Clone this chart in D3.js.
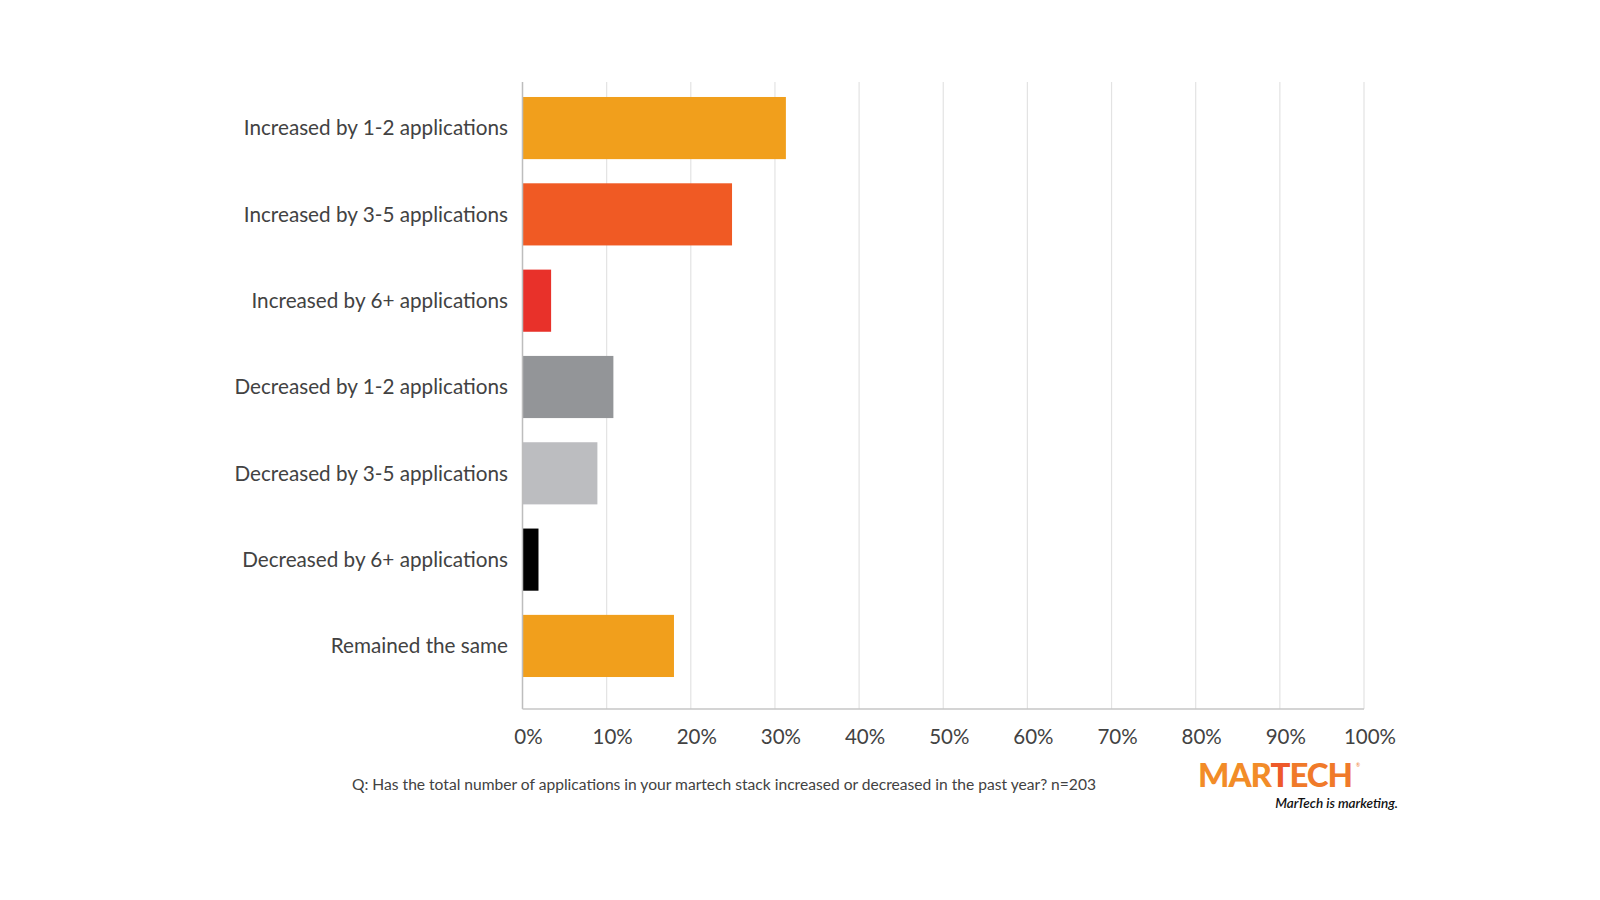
<!DOCTYPE html>
<html>
<head>
<meta charset="utf-8">
<script src="https://cdn.jsdelivr.net/npm/d3@7"></script>
<style>
  html, body { margin: 0; padding: 0; background: #ffffff; }
  svg { display: block; font-family: Lato, "Open Sans", sans-serif; }
</style>
</head>
<body>
<svg id="chart" width="1600" height="900"></svg>
<script>
const categories = [
  "Increased by 1-2 applications",
  "Increased by 3-5 applications",
  "Increased by 6+ applications",
  "Decreased by 1-2 applications",
  "Decreased by 3-5 applications",
  "Decreased by 6+ applications",
  "Remained the same"
];
const values = [31.3, 24.9, 3.4, 10.8, 8.9, 1.9, 18.0];
const barColors = ["#f19f1c", "#f05a24", "#e8312a", "#939598", "#bcbdc0", "#000000", "#f19f1c"];
const tickValues = [0, 10, 20, 30, 40, 50, 60, 70, 80, 90, 100];
const tickLabels = ["0%", "10%", "20%", "30%", "40%", "50%", "60%", "70%", "80%", "90%", "100%"];
const footnote = "Q: Has the total number of applications in your martech stack increased or decreased in the past year? n=203";

const svg = d3.select("#chart");

const plotTop = 82, plotBottom = 709;
const x = d3.scaleLinear().domain([0, 100]).range([522.5, 1364]);
const y = d3.scaleBand().domain(categories).range([84.9, 689.1]).paddingInner(0.28).paddingOuter(0.14);

// gridlines
svg.append("g").selectAll("line")
  .data(tickValues.filter(d => d > 0))
  .join("line")
  .attr("x1", d => x(d)).attr("x2", d => x(d))
  .attr("y1", plotTop).attr("y2", plotBottom)
  .attr("stroke", "#e3e3e3").attr("stroke-width", 1.2);

// bars
svg.append("g").selectAll("rect")
  .data(categories)
  .join("rect")
  .attr("x", x(0))
  .attr("y", d => y(d))
  .attr("width", (d, i) => x(values[i]) - x(0))
  .attr("height", y.bandwidth())
  .attr("fill", (d, i) => barColors[i]);

// axis lines
svg.append("line")
  .attr("x1", x(0)).attr("x2", x(0))
  .attr("y1", plotTop).attr("y2", plotBottom)
  .attr("stroke", "#bdbdbd").attr("stroke-width", 1.5);
svg.append("line")
  .attr("x1", x(0)).attr("x2", x(100))
  .attr("y1", plotBottom).attr("y2", plotBottom)
  .attr("stroke", "#c6c6c6").attr("stroke-width", 1.5);

// category labels
svg.append("g").selectAll("text")
  .data(categories)
  .join("text")
  .attr("x", 508)
  .attr("y", d => y(d) + y.bandwidth() / 2)
  .attr("dy", "0.35em")
  .attr("text-anchor", "end")
  .attr("font-size", 20.7)
  .attr("fill", "#424242")
  .text(d => d);

// tick labels
svg.append("g").selectAll("text")
  .data(tickValues)
  .join("text")
  .attr("x", d => x(d) + 6)
  .attr("y", 737)
  .attr("dy", "0.35em")
  .attr("text-anchor", "middle")
  .attr("font-size", 20.5)
  .attr("fill", "#424242")
  .text((d, i) => tickLabels[i]);

// footnote
svg.append("text")
  .attr("x", 352).attr("y", 785)
  .attr("dy", "0.35em")
  .attr("font-size", 15.6)
  .attr("fill", "#424242")
  .text(footnote);

// logo
const logo = svg.append("g");
const logoText = logo.append("text")
  .attr("x", 1198).attr("y", 787)
  .attr("font-family", "Lato, sans-serif")
  .attr("font-weight", 900)
  .attr("font-size", 33)
  .attr("letter-spacing", -1);
logoText.append("tspan").attr("fill", "#f28c28").text("MAR");
logoText.append("tspan").attr("fill", "#ee5a2a").text("T");
logoText.append("tspan").attr("fill", "#f07a2a").text("ECH");
logo.append("text")
  .attr("x", 1356).attr("y", 767)
  .attr("font-size", 5).attr("fill", "#f07a2a").text("®");
logo.append("text")
  .attr("x", 1398).attr("y", 808)
  .attr("text-anchor", "end")
  .attr("font-style", "italic")
  .attr("font-weight", 600)
  .attr("font-size", 13.5)
  .attr("fill", "#111")
  .text("MarTech is marketing.");
</script>
</body>
</html>
